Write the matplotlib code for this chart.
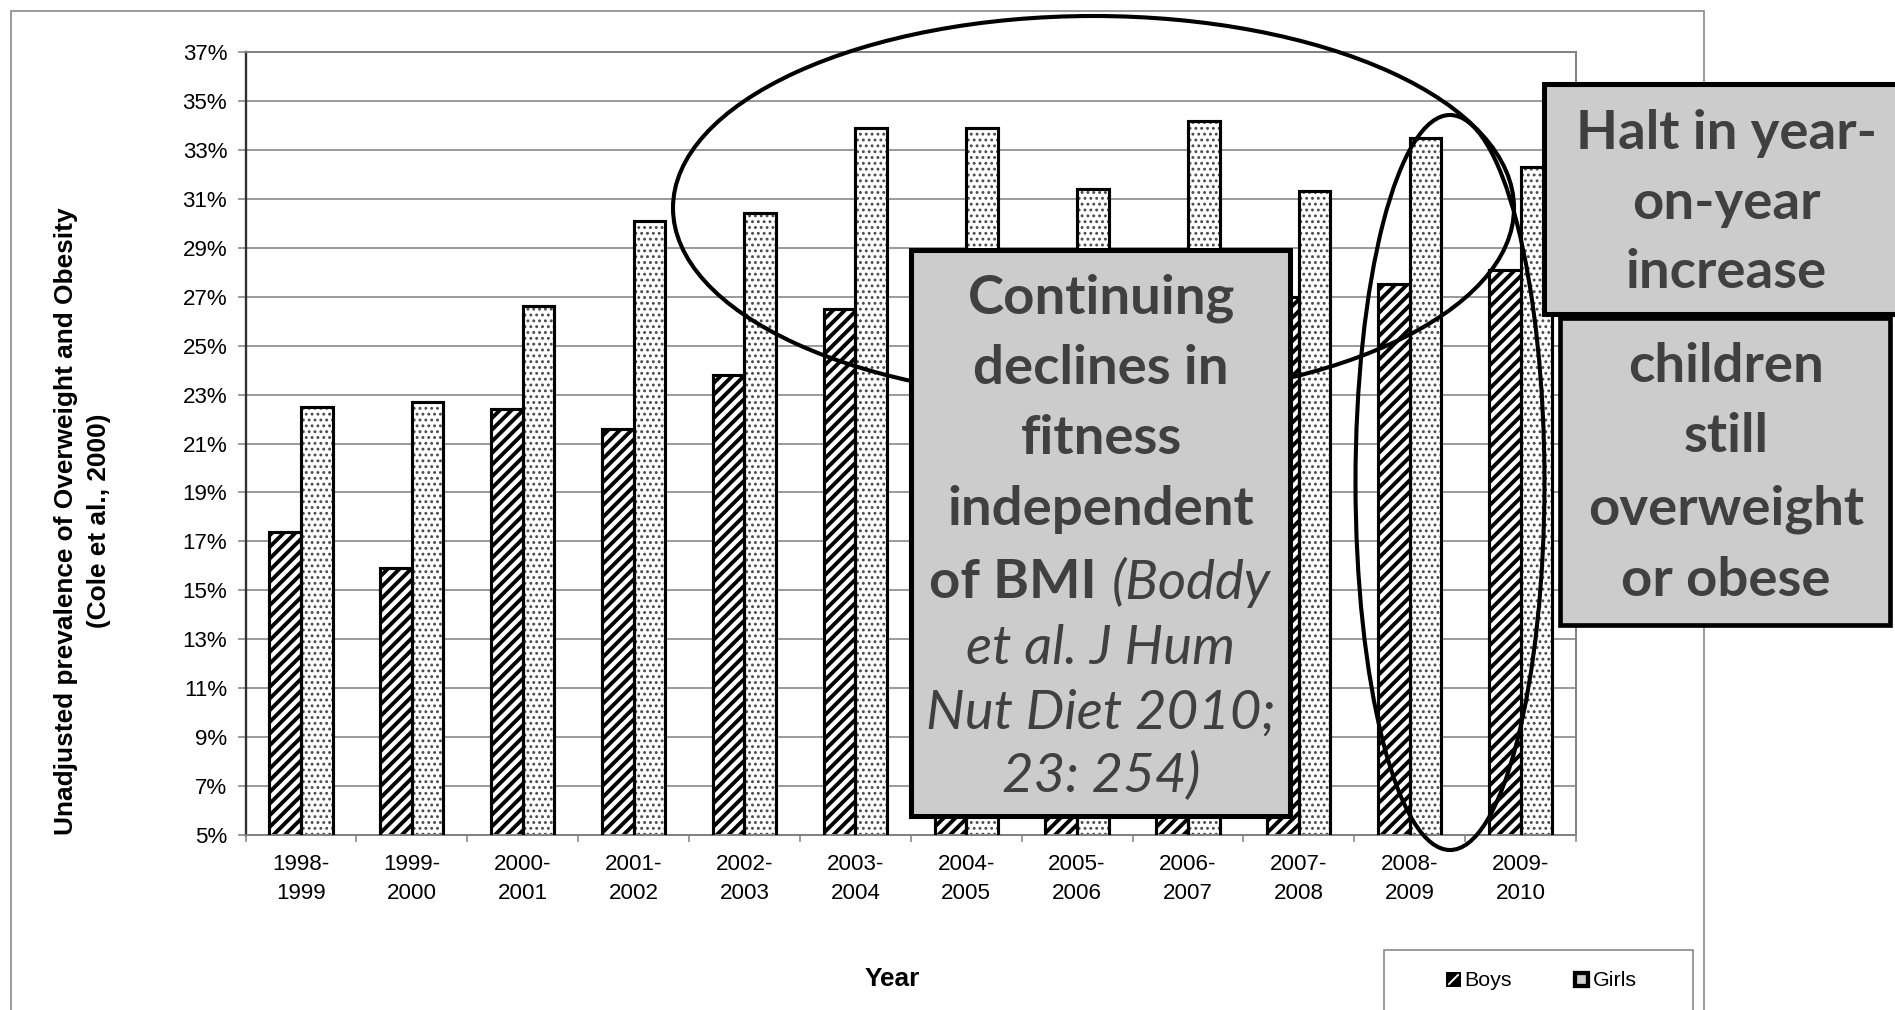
import numpy as np
import matplotlib.pyplot as plt
from matplotlib.patches import Rectangle, Ellipse
from matplotlib.lines import Line2D

plt.rcParams['font.family'] = ['Liberation Sans', 'DejaVu Sans']
plt.rcParams['hatch.linewidth'] = 2.0

# canvas in pixels
W, H, DPI = 1895, 1010, 140

years = ['1998-\n1999', '1999-\n2000', '2000-\n2001', '2001-\n2002', '2002-\n2003', '2003-\n2004',
         '2004-\n2005', '2005-\n2006', '2006-\n2007', '2007-\n2008', '2008-\n2009', '2009-\n2010']
boys = [17.4, 15.9, 22.4, 21.6, 23.8, 26.5, 26.0, 25.5, 27.0, 27.0, 27.5, 28.1]
girls = [22.5, 22.7, 26.6, 30.1, 30.4, 33.9, 33.9, 31.4, 34.2, 31.3, 33.5, 32.3]
yticks = list(range(5, 38, 2))

box1_bold = ['Continuing', 'declines in', 'fitness', 'independent']
box1_italic = ['et al. J Hum', 'Nut Diet 2010;', '23: 254)']
box2_lines = ['Halt in year-', 'on-year', 'increase']
box3_lines = ['children', 'still', 'overweight', 'or obese']

TXT = '#404040'
BOXFC = '#cccccc'


# pixel (from top-left) -> figure fraction
def fx(x):
    return x / W


def fy(y):
    return 1 - y / H


def frect(x0, y0, x1, y1, **kw):
    r = Rectangle((fx(x0), fy(y1)), (x1 - x0) / W, (y1 - y0) / H,
                  transform=fig.transFigure, **kw)
    fig.add_artist(r)
    return r


fig = plt.figure(figsize=(W / DPI, H / DPI), dpi=DPI)
ax = fig.add_axes([fx(245.5), fy(835), (1576 - 245.5) / W, (835 - 52) / H])

x = np.arange(len(years))
bw = 0.285


# draw hatch layer then a black outline on top
def pattern_bars(xs, vals, hatch, hcolor, hlw):
    under = ax.bar(xs, vals, bw, color='white', edgecolor=hcolor, linewidth=0,
                   hatch=hatch, zorder=2)
    for p in under:
        if hasattr(p, 'set_hatch_linewidth'):
            p.set_hatch_linewidth(hlw)
    ax.bar(xs, vals, bw, fill=False, edgecolor='black', linewidth=1.6, zorder=3)


pattern_bars(x - bw / 2, boys, '////', 'black', 2.0)
pattern_bars(x + bw / 2, girls, '....', '#4a4a4a', 0.9)

ax.set_xlim(-0.5, 11.5)
ax.set_ylim(5, 37)
ax.set_yticks(yticks, [f'{v}%' for v in yticks])
ax.set_xticks(x, years, linespacing=1.45)
ax.set_xticks(np.arange(-0.5, 12, 1), minor=True)
ax.tick_params(axis='y', length=3.9, width=0.8, color='#808080', pad=5.5, labelsize=11.5)
ax.tick_params(axis='x', which='major', length=0, pad=10, labelsize=11.5)
ax.tick_params(axis='x', which='minor', length=3.6, width=0.8, color='#808080')

ax.yaxis.grid(True, color='#808080', linewidth=0.8)
ax.set_axisbelow(True)
for s in ['top', 'right', 'bottom']:
    ax.spines[s].set_color('#808080')
    ax.spines[s].set_linewidth(1.0)
ax.spines['left'].set_color('#303030')
ax.spines['left'].set_linewidth(1.2)

# axis titles
fig.text(fx(66), fy(521), 'Unadjusted prevalence of Overweight and Obesity', rotation=90,
         ha='center', va='center', fontsize=13.5, fontweight='bold')
fig.text(fx(99), fy(521), '(Cole et al., 2000)', rotation=90,
         ha='center', va='center', fontsize=13.5, fontweight='bold')
fig.text(fx(892), fy(979), 'Year', ha='center', va='center', fontsize=13.5, fontweight='bold')

# chart area border
frect(11, 11, 1704, 1020, fill=False, edgecolor='#808080', linewidth=0.8)

# legend
frect(1384, 950, 1693, 1020, fill=False, edgecolor='#808080', linewidth=0.8)
frect(1447, 973, 1460, 986, facecolor='black', edgecolor='black', linewidth=1.0)
fig.add_artist(Line2D([fx(1449), fx(1458)], [fy(984), fy(975)], transform=fig.transFigure,
                      color='white', linewidth=1.0))
frect(1575, 973, 1588, 986, facecolor='#d0d0d0', edgecolor='black', linewidth=2.2)
fig.text(fx(1464), fy(980), 'Boys', ha='left', va='center', fontsize=11)
fig.text(fx(1593), fy(980), 'Girls', ha='left', va='center', fontsize=11)

# annotation ellipses
fig.add_artist(Ellipse((fx(1093.5), fy(208)), 2 * 420.5 / W, 2 * 192 / H,
                       transform=fig.transFigure, fill=False, edgecolor='black',
                       linewidth=2.1, zorder=5))
fig.add_artist(Ellipse((fx(1450), fy(482.5)), 2 * 94.5 / W, 2 * 367.5 / H,
                       transform=fig.transFigure, fill=False, edgecolor='black',
                       linewidth=2.1, zorder=5))

# annotation boxes
frect(911, 250, 1290, 816, facecolor=BOXFC, edgecolor='black', linewidth=2.6, zorder=6)
frect(1560, 318, 1890, 625, facecolor=BOXFC, edgecolor='black', linewidth=2.4, zorder=6)
frect(1544, 84, 1910, 314, facecolor=BOXFC, edgecolor='black', linewidth=2.6, zorder=7)

bold = dict(fontfamily='Lato', fontweight='bold', fontsize=28, color=TXT,
            ha='center', va='center', zorder=8)
ital = dict(fontfamily='Lato', fontstyle='italic', fontsize=28, color=TXT,
            ha='center', va='center', zorder=8)

for s, yy in zip(box1_bold, [298, 369, 439, 510]):
    fig.text(fx(1101), fy(yy), s, **bold)
fig.text(fx(1097), fy(582), 'of BMI', **{**bold, 'ha': 'right'})
fig.text(fx(1112), fy(582), '(Boddy', **{**ital, 'ha': 'left'})
for s, yy in zip(box1_italic, [648, 713, 776]):
    fig.text(fx(1101), fy(yy), s, **ital)
for s, yy in zip(box2_lines, [134, 203, 273]):
    fig.text(fx(1726), fy(yy), s, **bold)
for s, yy in zip(box3_lines, [366, 437, 509, 580]):
    fig.text(fx(1726), fy(yy), s, **bold)

fig.savefig('out.png', dpi=DPI)
